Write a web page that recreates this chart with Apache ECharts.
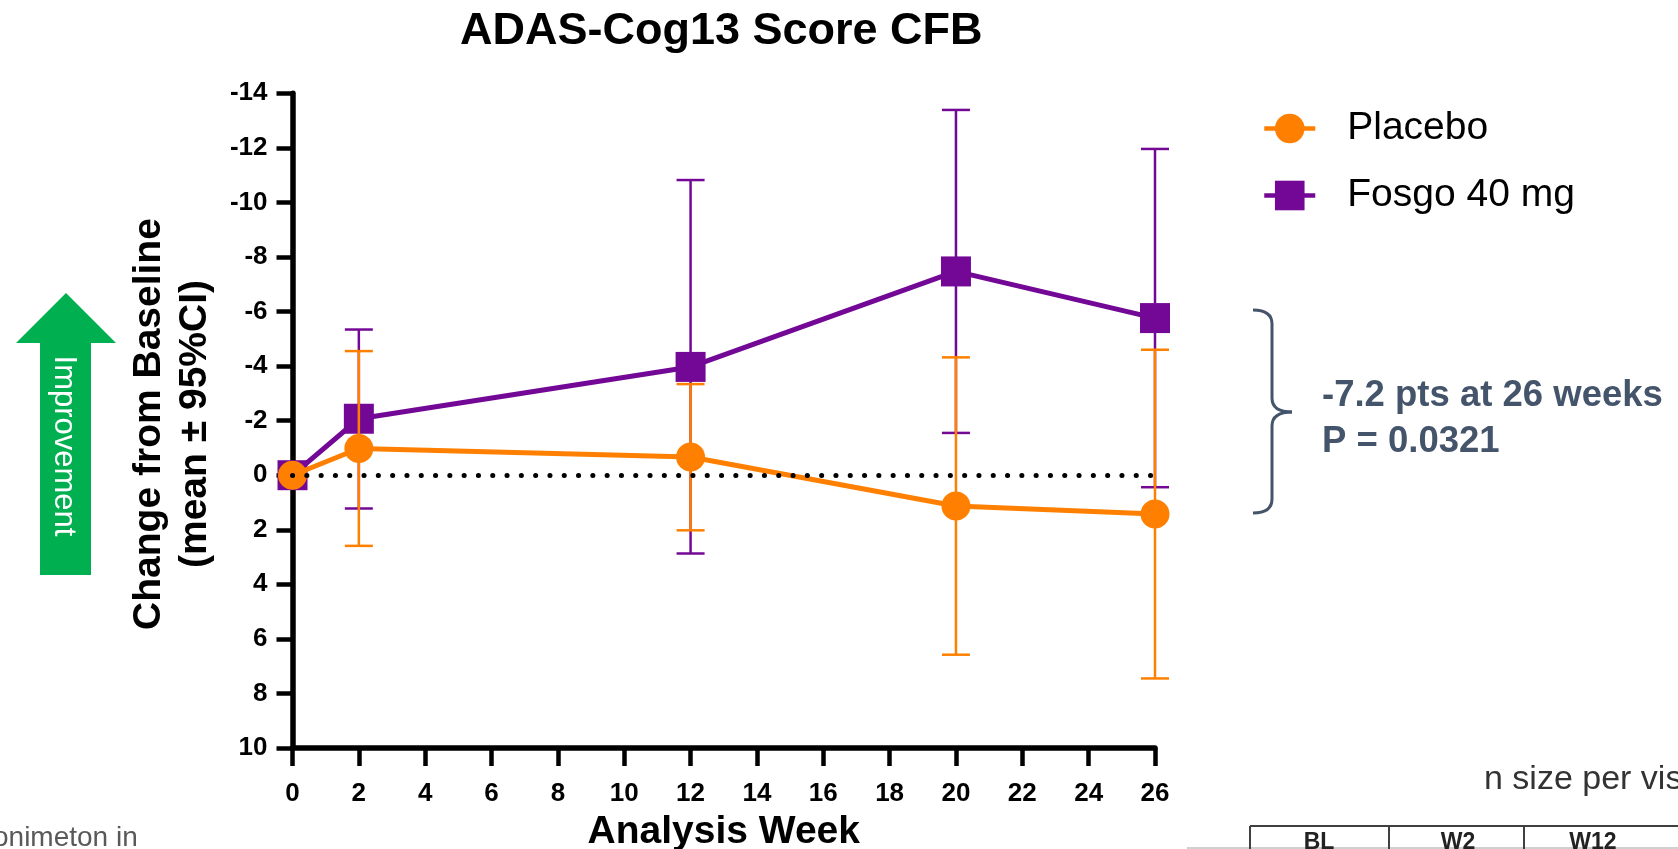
<!DOCTYPE html>
<html>
<head>
<meta charset="utf-8">
<title>ADAS-Cog13 Score CFB</title>
<script src="https://cdn.jsdelivr.net/npm/echarts@6/dist/echarts.min.js"></script>
<style>
  html, body { margin: 0; padding: 0; background: #fff; }
  #chart { width: 1678px; height: 849px; }
</style>
</head>
<body>
<div id="chart"></div>
<script>
// Data (change from baseline, mean and 95% CI)
const weeks = [0, 2, 12, 20, 26];
const placeboMean = [0, -0.98, -0.67, 1.13, 1.42];
const placeboLow = [0, -4.55, -3.34, -4.32, -4.60];
const placeboHigh = [0, 2.59, 2.02, 6.58, 7.45];
const fosgoMean = [0, -2.07, -3.97, -7.47, -5.76];
const fosgoLow = [0, -5.34, -10.82, -13.39, -11.96];
const fosgoHigh = [0, 1.22, 2.87, -1.55, 0.44];
const tableHeaders = ["BL", "W2", "W12"];

const orange = "#FF8000";
const purple = "#740896";
const slate = "#44546A";
const font = "'Liberation Sans', Arial, sans-serif";

const toPoints = (means) => weeks.map((w, i) => [w, means[i]]);
const toBars = (low, high) =>
  weeks.map((w, i) => [w, low[i], high[i]]).filter((d) => d[1] !== d[2]);

// Draws a vertical CI bar with caps
const errorBars = (color) => (params, api) => {
  const x = api.value(0);
  const top = api.coord([x, api.value(1)]);
  const bot = api.coord([x, api.value(2)]);
  const half = 14;
  const style = { stroke: color, lineWidth: 2.5 };
  return {
    type: "group",
    children: [
      { type: "line", shape: { x1: top[0], y1: top[1], x2: bot[0], y2: bot[1] }, style },
      { type: "line", shape: { x1: top[0] - half, y1: top[1], x2: top[0] + half, y2: top[1] }, style },
      { type: "line", shape: { x1: bot[0] - half, y1: bot[1], x2: bot[0] + half, y2: bot[1] }, style },
    ],
  };
};

let dom = document.getElementById("chart");
let myChart = echarts.init(dom, null, { renderer: "canvas" });

// table fragment at the bottom right
let tableGraphics = [];
const colX = [1250, 1389, 1524];
tableHeaders.forEach((h, i) => {
  tableGraphics.push({
    type: "text",
    x: colX[i] + 69,
    y: 843,
    style: { text: h, font: "bold 23px " + font, fill: "#222", align: "center", verticalAlign: "middle" },
  });
  tableGraphics.push({
    type: "line",
    shape: { x1: colX[i], y1: 826, x2: colX[i], y2: 849 },
    style: { stroke: "#404040", lineWidth: 2 },
  });
});

// curly brace next to the 26 week points
const braceStyle = { stroke: slate, lineWidth: 3, fill: null };
const brace = [
  { type: "bezierCurve", shape: { x1: 1253, y1: 310, cpx1: 1272, cpy1: 310, x2: 1272, y2: 324 }, style: braceStyle },
  { type: "line", shape: { x1: 1272, y1: 324, x2: 1272, y2: 398 }, style: braceStyle },
  { type: "bezierCurve", shape: { x1: 1272, y1: 398, cpx1: 1272, cpy1: 412, x2: 1292, y2: 412 }, style: braceStyle },
  { type: "bezierCurve", shape: { x1: 1292, y1: 412, cpx1: 1272, cpy1: 412, x2: 1272, y2: 426 }, style: braceStyle },
  { type: "line", shape: { x1: 1272, y1: 426, x2: 1272, y2: 499 }, style: braceStyle },
  { type: "bezierCurve", shape: { x1: 1272, y1: 499, cpx1: 1272, cpy1: 513, x2: 1253, y2: 513 }, style: braceStyle },
];

let option = {
  animation: false,
  title: {
    text: "ADAS-Cog13 Score CFB",
    left: 460,
    top: 9,
    padding: 0,
    textStyle: { fontFamily: font, fontSize: 45, fontWeight: "bold", color: "#000" },
  },
  legend: {
    data: ["Placebo", "Fosgo 40 mg"],
    orient: "vertical",
    left: 1262,
    top: 109,
    padding: 0,
    itemWidth: 51,
    itemHeight: 37,
    itemGap: 28,
    lineStyle: { width: 4.5 },
    textStyle: { fontFamily: font, fontSize: 39, color: "#000", padding: [0, 0, 0, 27] },
  },
  grid: {
    left: 292.5,
    top: 93.3,
    width: 862.5,
    height: 654.7,
    containLabel: false,
    outerBoundsMode: "none",
  },
  xAxis: {
    type: "value",
    min: 0,
    max: 26,
    interval: 2,
    name: "Analysis Week",
    nameLocation: "middle",
    nameGap: 65,
    nameTextStyle: { fontFamily: font, fontSize: 39, fontWeight: "bold", color: "#000" },
    axisLine: { onZero: false, lineStyle: { color: "#000", width: 5.5 } },
    axisTick: { length: 18, lineStyle: { color: "#000", width: 4.5 } },
    axisLabel: { margin: 33, fontFamily: font, fontSize: 26, fontWeight: "bold", color: "#000" },
    splitLine: { show: false },
  },
  yAxis: {
    type: "value",
    inverse: true,
    min: -14,
    max: 10,
    interval: 2,
    axisLine: { onZero: false, lineStyle: { color: "#000", width: 5.5 } },
    axisTick: { length: 16, lineStyle: { color: "#000", width: 4.5 } },
    axisLabel: { margin: 25, fontFamily: font, fontSize: 26, fontWeight: "bold", color: "#000" },
    splitLine: { show: false },
  },
  series: [
    {
      name: "Fosgo CI",
      type: "custom",
      z: 1,
      renderItem: errorBars(purple),
      encode: { x: 0, y: [1, 2] },
      data: toBars(fosgoLow, fosgoHigh),
    },
    {
      name: "Fosgo 40 mg",
      type: "line",
      z: 2,
      data: toPoints(fosgoMean),
      symbol: "rect",
      symbolSize: 30,
      color: purple,
      lineStyle: { width: 5, color: purple },
      itemStyle: { color: purple },
      markLine: {
        silent: true,
        symbol: "none",
        label: { show: false },
        lineStyle: { color: "#000", width: 5, type: [0.1, 14.2], cap: "round" },
        data: [{ yAxis: 0 }],
      },
    },
    {
      name: "Placebo CI",
      type: "custom",
      z: 3,
      renderItem: errorBars(orange),
      encode: { x: 0, y: [1, 2] },
      data: toBars(placeboLow, placeboHigh),
    },
    {
      name: "Placebo",
      type: "line",
      z: 4,
      data: toPoints(placeboMean),
      symbol: "circle",
      symbolSize: 29,
      color: orange,
      lineStyle: { width: 5, color: orange },
      itemStyle: { color: orange },
    },
  ],
  graphic: [
    {
      type: "polygon",
      shape: { points: [[66, 293], [116, 343], [91, 343], [91, 575], [40, 575], [40, 343], [16, 343]] },
      style: { fill: "#00B050" },
    },
    {
      type: "text",
      x: 64,
      y: 446,
      rotation: -Math.PI / 2,
      style: { text: "Improvement", font: "31px " + font, fill: "#fff", align: "center", verticalAlign: "middle" },
    },
    {
      type: "text",
      x: 172,
      y: 424,
      rotation: Math.PI / 2,
      style: {
        text: "Change from Baseline\n(mean ± 95%CI)",
        font: "bold 39px " + font,
        lineHeight: 46,
        fill: "#000",
        align: "center",
        verticalAlign: "middle",
      },
    },
    ...brace,
    {
      type: "text",
      x: 1322,
      y: 396,
      style: { text: "-7.2 pts at 26 weeks", font: "bold 36.5px " + font, fill: slate, verticalAlign: "middle" },
    },
    {
      type: "text",
      x: 1322,
      y: 442,
      style: { text: "P = 0.0321", font: "bold 36.5px " + font, fill: slate, verticalAlign: "middle" },
    },
    {
      type: "text",
      x: -7,
      y: 838,
      style: { text: "onimeton in", font: "28px " + font, fill: "#595959", verticalAlign: "middle" },
    },
    {
      type: "text",
      x: 1484,
      y: 780,
      style: { text: "n size per visit", font: "34px " + font, fill: "#333", verticalAlign: "middle" },
    },
    {
      type: "line",
      shape: { x1: 1250, y1: 826, x2: 1678, y2: 826 },
      style: { stroke: "#404040", lineWidth: 2 },
    },
    {
      type: "line",
      shape: { x1: 1187, y1: 848, x2: 1678, y2: 848 },
      style: { stroke: "#d0d0d0", lineWidth: 2 },
    },
    ...tableGraphics,
  ],
};

if (option && typeof option === "object") {
  myChart.setOption(option);
}
window.addEventListener("resize", myChart.resize);
</script>
</body>
</html>
